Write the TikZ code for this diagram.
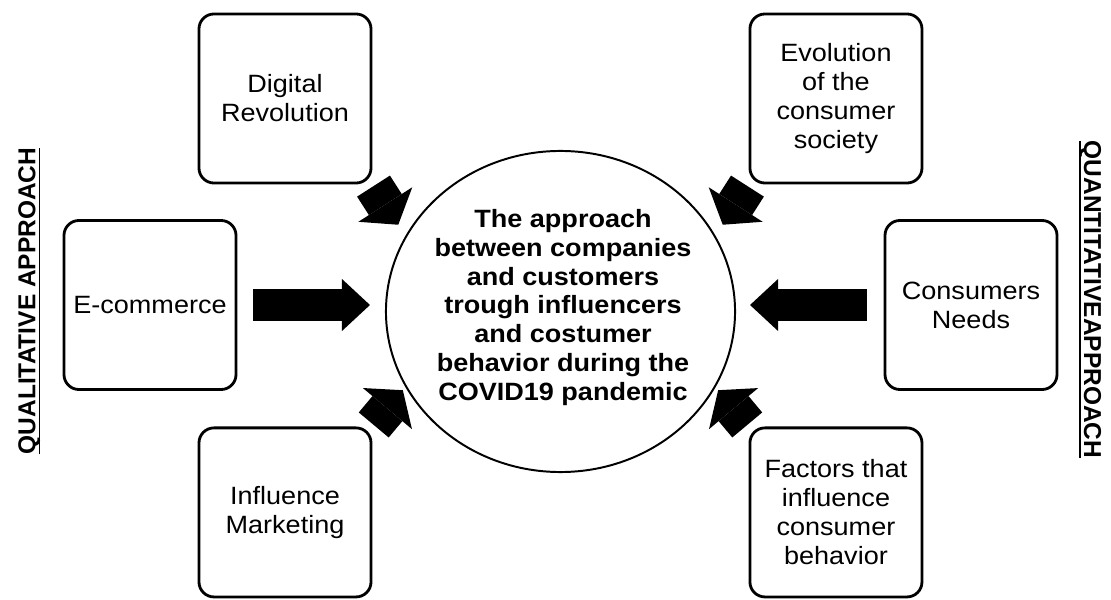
\documentclass[tikz,border=0pt]{standalone}
\usepackage{fontspec}
\setmainfont{Liberation Sans}[FakeStretch=1.08]
\newfontfamily\sidefont{Liberation Sans}
\usetikzlibrary{arrows.meta, positioning, shapes.geometric}
\tikzset{
  topicbox/.style  = {draw, line width=2pt, rectangle, rounded corners=0.375cm, align=center,
                      minimum width=4.3cm, minimum height=4.225cm, inner sep=2pt,
                      font=\fontsize{17.8}{20.6}\selectfont},
  hub/.style       = {draw, line width=1.4pt, ellipse, minimum width=8.725cm, minimum height=8.025cm},
  hubtext/.style   = {align=center, inner sep=0pt, font=\fontsize{17.8}{20.6}\selectfont\bfseries},
  pusharrow/.style = {line width=0.775cm, -{Triangle[length=0.7cm, width=1.3cm, line width=0pt]}},
  stubarrow/.style = {line width=0.975cm, -{Triangle[length=0.6cm, width=1.6cm, line width=0pt]}},
  sidelabel/.style = {font=\sidefont\fontsize{17.4}{20}\selectfont\bfseries,
                      inner xsep=0pt, inner ysep=2.8pt, text depth=0pt},
  underline/.style = {line width=1.4pt},
}

\begin{document}
\begin{tikzpicture}[x=0.025cm, y=0.025cm]
  \fill[white] (0,0) rectangle (1111,599);
  \useasboundingbox (0,0) rectangle (1111,599);

  % topic in the middle
  \node[hub] (hub) at (560.5,287.5) {};
  \node[hubtext] (topic) at (563,291.5)
    {The approach\\between companies\\and customers\\trough influencers\\and costumer\\behavior during the\\COVID19 pandemic};

  % the six themes round it
  \node[topicbox] (digital) at (285,500.5) {Digital\\Revolution};
  \node[topicbox, right=9.4cm of digital] (society) {Evolution\\of the\\consumer\\society};
  \node[topicbox] (ecom) at (150,294) {E-commerce};
  \node[topicbox] (needs) at (971,294) {Consumers\\Needs};
  \node[topicbox, below=6.05cm of digital] (influence) {Influence\\Marketing};
  \node[topicbox, below=6.05cm of society] (factors) {Factors that\\influence\\consumer\\behavior};

  % block arrows pointing at the topic
  \draw[pusharrow, shorten <=0.4cm, shorten >=0.375cm] (ecom.east) -- (ecom.east -| hub.west);
  \draw[pusharrow, shorten <=0.425cm, shorten >=0.35cm] (needs.west) -- (needs.west -| hub.east);
  \draw[stubarrow, shorten <=0.05cm, shorten >=0.33cm] (digital.south east) -- (hub.154);
  \draw[stubarrow, shorten <=0.05cm, shorten >=0.33cm] (society.south west) -- (hub.26);
  \draw[stubarrow, shorten <=0.05cm, shorten >=0.1cm] (influence.north east) -- (hub.206);
  \draw[stubarrow, shorten <=0.05cm, shorten >=0.1cm] (factors.north west) -- (hub.-26);

  % approach labels on both sides
  \node[sidelabel, rotate=90, anchor=south] (qual) at (39.5,298) {QUALITATIVE APPROACH};
  \draw[underline] (qual.south west) -- (qual.south east);
  \node[sidelabel, rotate=-90, anchor=south] (quant) at (1080,299.5) {QUANTITATIVEAPPROACH};
  \draw[underline] (quant.south west) -- (quant.south east);
\end{tikzpicture}
\end{document}
